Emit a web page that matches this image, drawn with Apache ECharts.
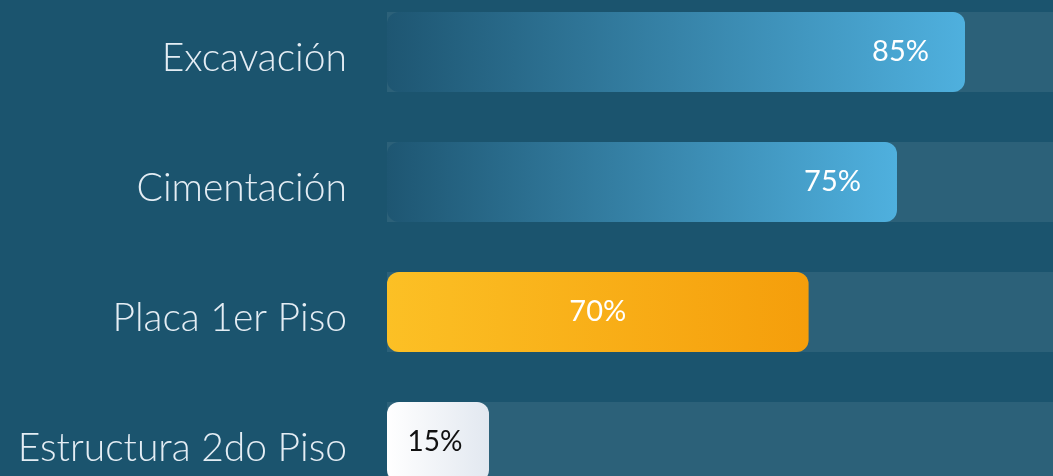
<!DOCTYPE html>
<html><head><meta charset="utf-8">
<style>html,body{margin:0;padding:0;background:#1b546e;}#c{width:1053px;height:476px;}</style>
<script src="https://cdn.jsdelivr.net/npm/echarts@6/dist/echarts.min.js"></script>
</head><body><div id="c"></div>
<script>
const categories = ['Excavación', 'Cimentación', 'Placa 1er Piso', 'Estructura 2do Piso'];
const values = [85, 75, 62, 15];
const labels = ['85%', '75%', '70%', '15%'];

const blue = {type:'linear',x:0,y:0,x2:1,y2:0,colorStops:[{offset:0,color:'#1e5672'},{offset:1,color:'#4fb0de'}]};
const yellow = {type:'linear',x:0,y:0,x2:1,y2:0,colorStops:[{offset:0,color:'#fcc025'},{offset:1,color:'#f59e0b'}]};
const white = {type:'linear',x:0,y:0,x2:1,y2:0,colorStops:[{offset:0,color:'#ffffff'},{offset:1,color:'#e2e8f0'}]};
const styles = [
  {color: blue, label: {position:'insideRight', distance:36, color:'#ffffff'}},
  {color: blue, label: {position:'insideRight', distance:36, color:'#ffffff'}},
  {color: yellow, label: {position:'inside', color:'#ffffff'}},
  {color: white, label: {position:'inside', color:'#111111', offset:[-3,0], fontSize:28}}
];

const chart = echarts.init(document.getElementById('c'));
chart.setOption({
  backgroundColor: '#1b546e',
  animation: false,
  grid: {left: 387, width: 680, top: -13, height: 520, containLabel: false, outerBoundsMode: 'none'},
  xAxis: {type:'value', min:0, max:100, show:false},
  yAxis: {type:'category', data: categories, inverse: true,
    axisLine:{show:false}, axisTick:{show:false},
    axisLabel:{margin:40, formatter: '{a|{value}}',
      rich: {a: {color:'#e4edf4', fontSize:39, fontWeight:300, fontFamily:'Lato', padding:[12,0,0,0]}}}},
  series: [{
    type:'bar', barWidth: 80,
    showBackground: true,
    backgroundStyle: {color:'rgba(255,255,255,0.08)', borderRadius: 0},
    data: values.map((v,i)=>({
      value: v,
      itemStyle: {color: styles[i].color, borderRadius: 12},
      label: Object.assign({show:true, formatter: labels[i], fontSize:29, fontWeight:'normal', fontFamily:'Lato'}, styles[i].label)
    }))
  }]
});
</script></body></html>
